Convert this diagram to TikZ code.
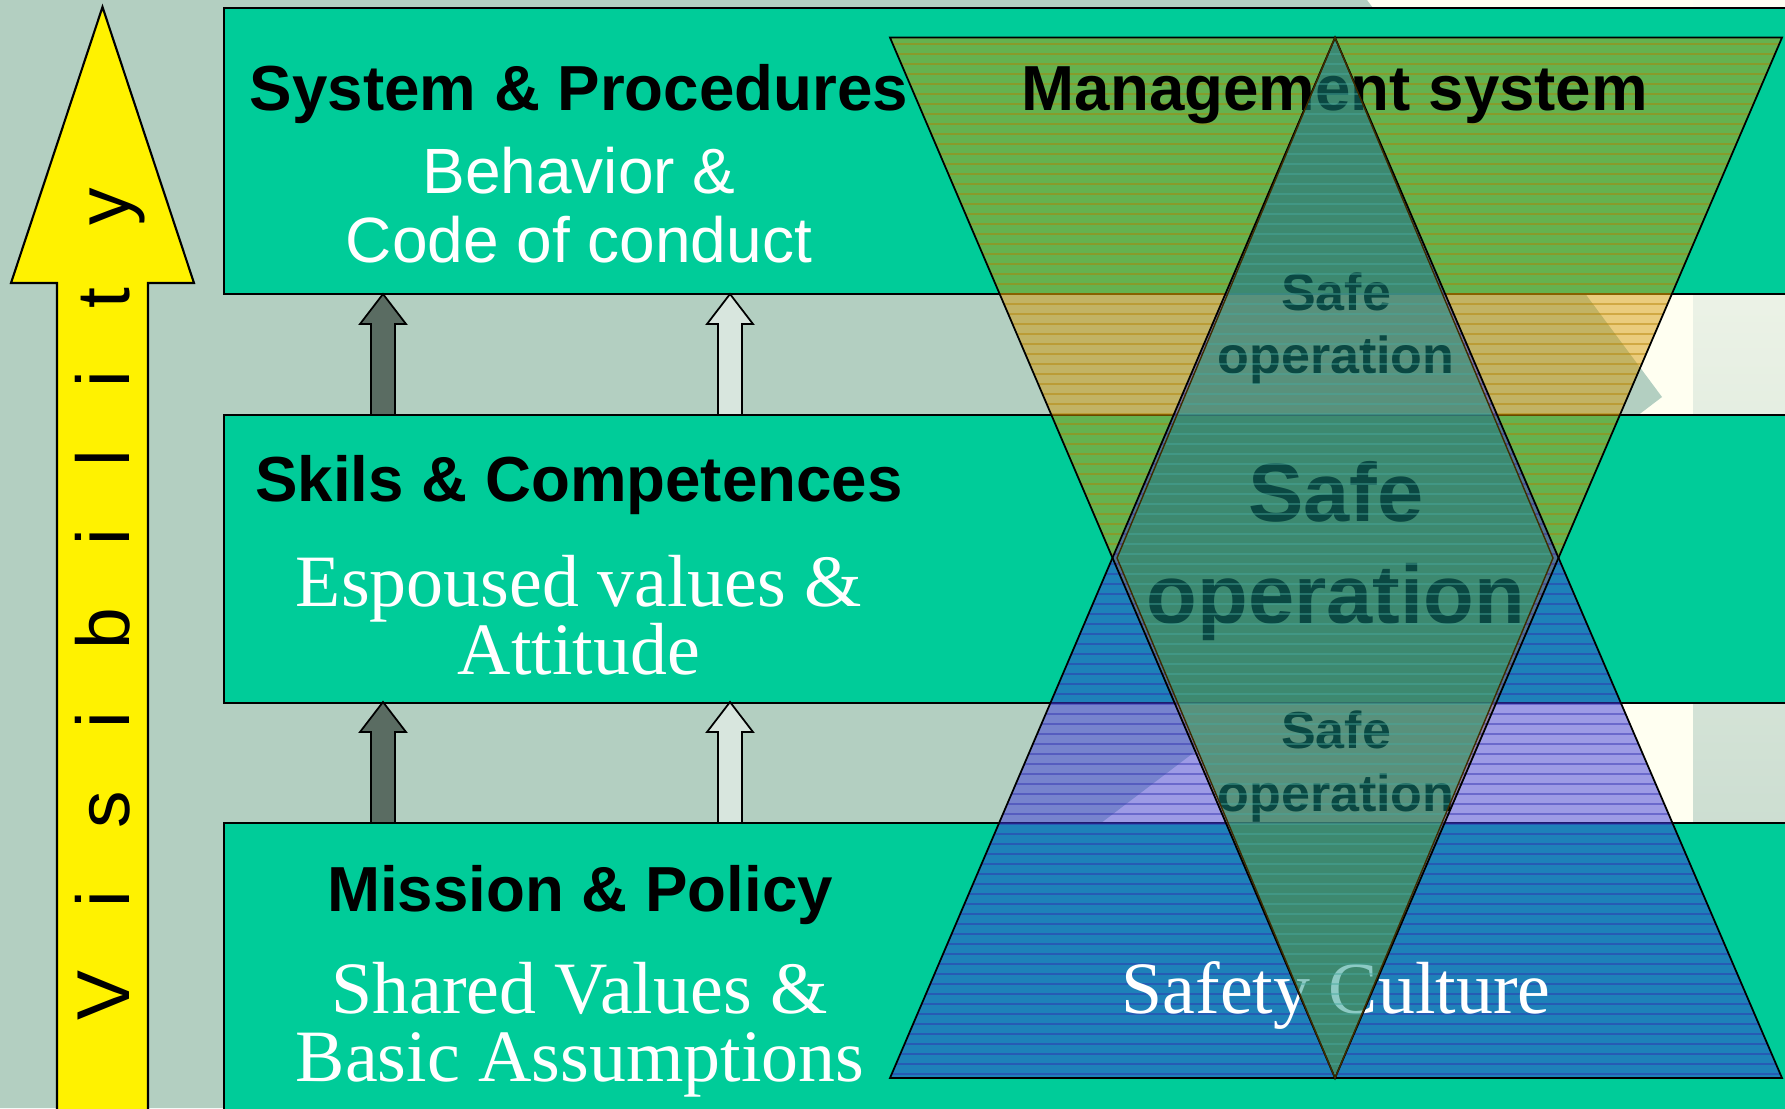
\documentclass[tikz,border=0pt]{standalone}
\usepackage{fontspec}
\setmainfont{Liberation Serif}
\setsansfont{Liberation Sans}
\usepackage{tikz}

\definecolor{sage}{RGB}{179,207,193}
\definecolor{cream}{RGB}{255,255,241}
\definecolor{edgelight}{RGB}{253,254,242}
\definecolor{edgegrey}{RGB}{188,211,198}
\definecolor{boxteal}{RGB}{0,204,153}
\definecolor{mgmtorange}{RGB}{212,150,0}
\definecolor{cultureblue}{RGB}{60,56,218}
\definecolor{safeteal}{RGB}{24,147,135}
\definecolor{safeunder}{RGB}{98,129,90}
\definecolor{safeundergap}{RGB}{153,145,114}
\definecolor{darkarrow}{RGB}{90,108,98}
\definecolor{lightarrow}{RGB}{216,230,222}

\newcommand{\headfont}{\sffamily\bfseries\fontsize{18.1}{22}\selectfont}
\newcommand{\plainsans}{\sffamily\fontsize{18.2}{22}\selectfont}
\newcommand{\valuefont}{\rmfamily\fontsize{21}{25}\selectfont}
\newcommand{\safesmall}{\sffamily\bfseries\fontsize{14.8}{18}\selectfont}
\newcommand{\safebig}{\sffamily\bfseries\fontsize{23.6}{28}\selectfont}
\newcommand{\visfont}{\sffamily\fontsize{21.3}{25}\selectfont}

\tikzset{
  layer/.style={draw=black,line width=0.6pt,fill=boxteal},
  head/.style={anchor=base,inner sep=0pt,text=black,font=\headfont},
  whitesans/.style={anchor=base,inner sep=0pt,text=white,font=\plainsans},
  whiteserif/.style={anchor=base,inner sep=0pt,text=white,font=\valuefont},
  safe/.style={anchor=base,inner sep=0pt,text=black},
  stripe/.style={line width=0.3pt,opacity=0.45},
  lift/.pic={\draw[pic actions] (-12,0) -- (-12,-91) -- (-23,-91) -- (0,-121)
    -- (23,-91) -- (12,-91) -- (12,0) -- cycle;}
}

\begin{document}
\begin{tikzpicture}[x=0.01cm,y=-0.01cm]
    \path[use as bounding box] (0,0) rectangle (1785,1108);
    \clip (0,0) rectangle (1785,1108);

    % background
    \fill[cream] (0,0) rectangle (1785,1108);
    \fill[sage] (0,0) -- (1367,0) -- (1662,397) -- (1101,823) -- (724,1108) -- (0,1108) -- cycle;
    \shade[top color=edgelight,bottom color=edgegrey] (1693,0) rectangle (1785,1108);

    % the three levels
    \draw[layer] (224,8) rectangle (1800,294);
    \draw[layer] (224,415) rectangle (1800,703);
    \draw[layer] (224,823) rectangle (1800,1120);

    % visibility arrow
    \draw[fill=yellow,line width=0.6pt] (57,1120) -- (57,283) -- (11,283) -- (102.5,7)
        -- (194,283) -- (148,283) -- (148,1120) -- cycle;
    \node[rotate=90,anchor=base,inner sep=0pt,font=\visfont] (vis) at (129,604)
        {V\ \ \ i\ \ \ s\ \ \ i\ \ \ b\ \ \ i\ \ \ l\ \ \ i\ \ \ t\ \ \ y};

    % arrows between the levels
    \foreach \yb in {415,823} {
        \pic[fill=darkarrow,line width=0.5pt] at (383,\yb) {lift};
        \pic[fill=lightarrow,line width=0.5pt] at (730,\yb) {lift};
    }

    % triangles
    \coordinate (tl) at (890,37.6);
    \coordinate (tr) at (1782,37.6);
    \coordinate (tip) at (1335,1078);
    \coordinate (bl) at (890,1078);
    \coordinate (br) at (1782,1078);
    \coordinate (top) at (1335,37.6);
    \coordinate (dl) at (1117,558);
    \coordinate (dr) at (1553,558);

    \fill[mgmtorange,fill opacity=0.48] (tl) -- (tr) -- (tip) -- cycle;
    \begin{scope}
        \clip (tl) -- (tr) -- (tip) -- cycle;
        \foreach \yy in {44,54,...,1074}
            \draw[stripe,mgmtorange!85!black] (850,\yy) -- (1785,\yy);
    \end{scope}

    \fill[cultureblue,fill opacity=0.5] (bl) -- (br) -- (top) -- cycle;
    \begin{scope}
        \clip (bl) -- (br) -- (top) -- cycle;
        \foreach \yy in {44,54,...,1074}
            \draw[stripe,cultureblue!80!black] (850,\yy) -- (1785,\yy);
    \end{scope}

    % what shows through the middle
    \fill[safeunder] (top) -- (dl) -- (tip) -- (dr) -- cycle;
    \begin{scope}
        \clip (top) -- (dl) -- (tip) -- (dr) -- cycle;
        \fill[safeundergap] (1000,294) rectangle (1700,415);
        \fill[safeundergap] (1000,703) rectangle (1700,823);
        \foreach \yb in {294,415,703,823}
            \draw[line width=0.6pt,black!70] (1000,\yb) -- (1700,\yb);
    \end{scope}

    % texts
    \node[head] (sysproc) at (579,110) {System \& Procedures};
    \node[whitesans] (behavior) at (579,193) {Behavior \&};
    \node[whitesans] (conduct) at (579,262) {Code of conduct};
    \node[head] (mgmt) at (1335,110) {Management system};

    \node[head] (skills) at (579,501) {Skils \& Competences};
    \node[whiteserif] (espoused) at (579,606) {Espoused values \&};
    \node[whiteserif] (attitude) at (579,674) {Attitude};

    \node[head] (mission) at (580,911) {Mission \& Policy};
    \node[whiteserif] (shared) at (579.5,1013) {Shared Values \&};
    \node[whiteserif] (basic) at (580,1081) {Basic Assumptions};
    \node[whiteserif] (culture) at (1336,1013) {Safety Culture};

    \node[safe,font=\safesmall] (safeup) at (1336,310) {Safe};
    \node[safe,font=\safesmall] (opup) at (1336,373) {operation};
    \node[safe,font=\safebig] (safemid) at (1336,521) {Safe};
    \node[safe,font=\safebig] (opmid) at (1336,623) {operation};
    \node[safe,font=\safesmall] (safelow) at (1336,748) {Safe};
    \node[safe,font=\safesmall] (oplow) at (1336,811) {operation};

    % safe operation diamond on top
    \fill[safeteal,fill opacity=0.49] (top) -- (dl) -- (tip) -- (dr) -- cycle;
    \begin{scope}
        \clip (top) -- (dl) -- (tip) -- (dr) -- cycle;
        \foreach \yy in {44,54,...,1074}
            \draw[stripe,safeteal!80!white] (1000,\yy) -- (1700,\yy);
    \end{scope}

    \draw[line width=0.5pt] (tl) -- (tr) -- (tip) -- cycle;
    \draw[line width=0.5pt] (bl) -- (br) -- (top) -- cycle;
    \draw[line width=0.4pt,black!70!mgmtorange] (top) -- (dl) -- (tip) -- (dr) -- cycle;
\end{tikzpicture}
\end{document}
